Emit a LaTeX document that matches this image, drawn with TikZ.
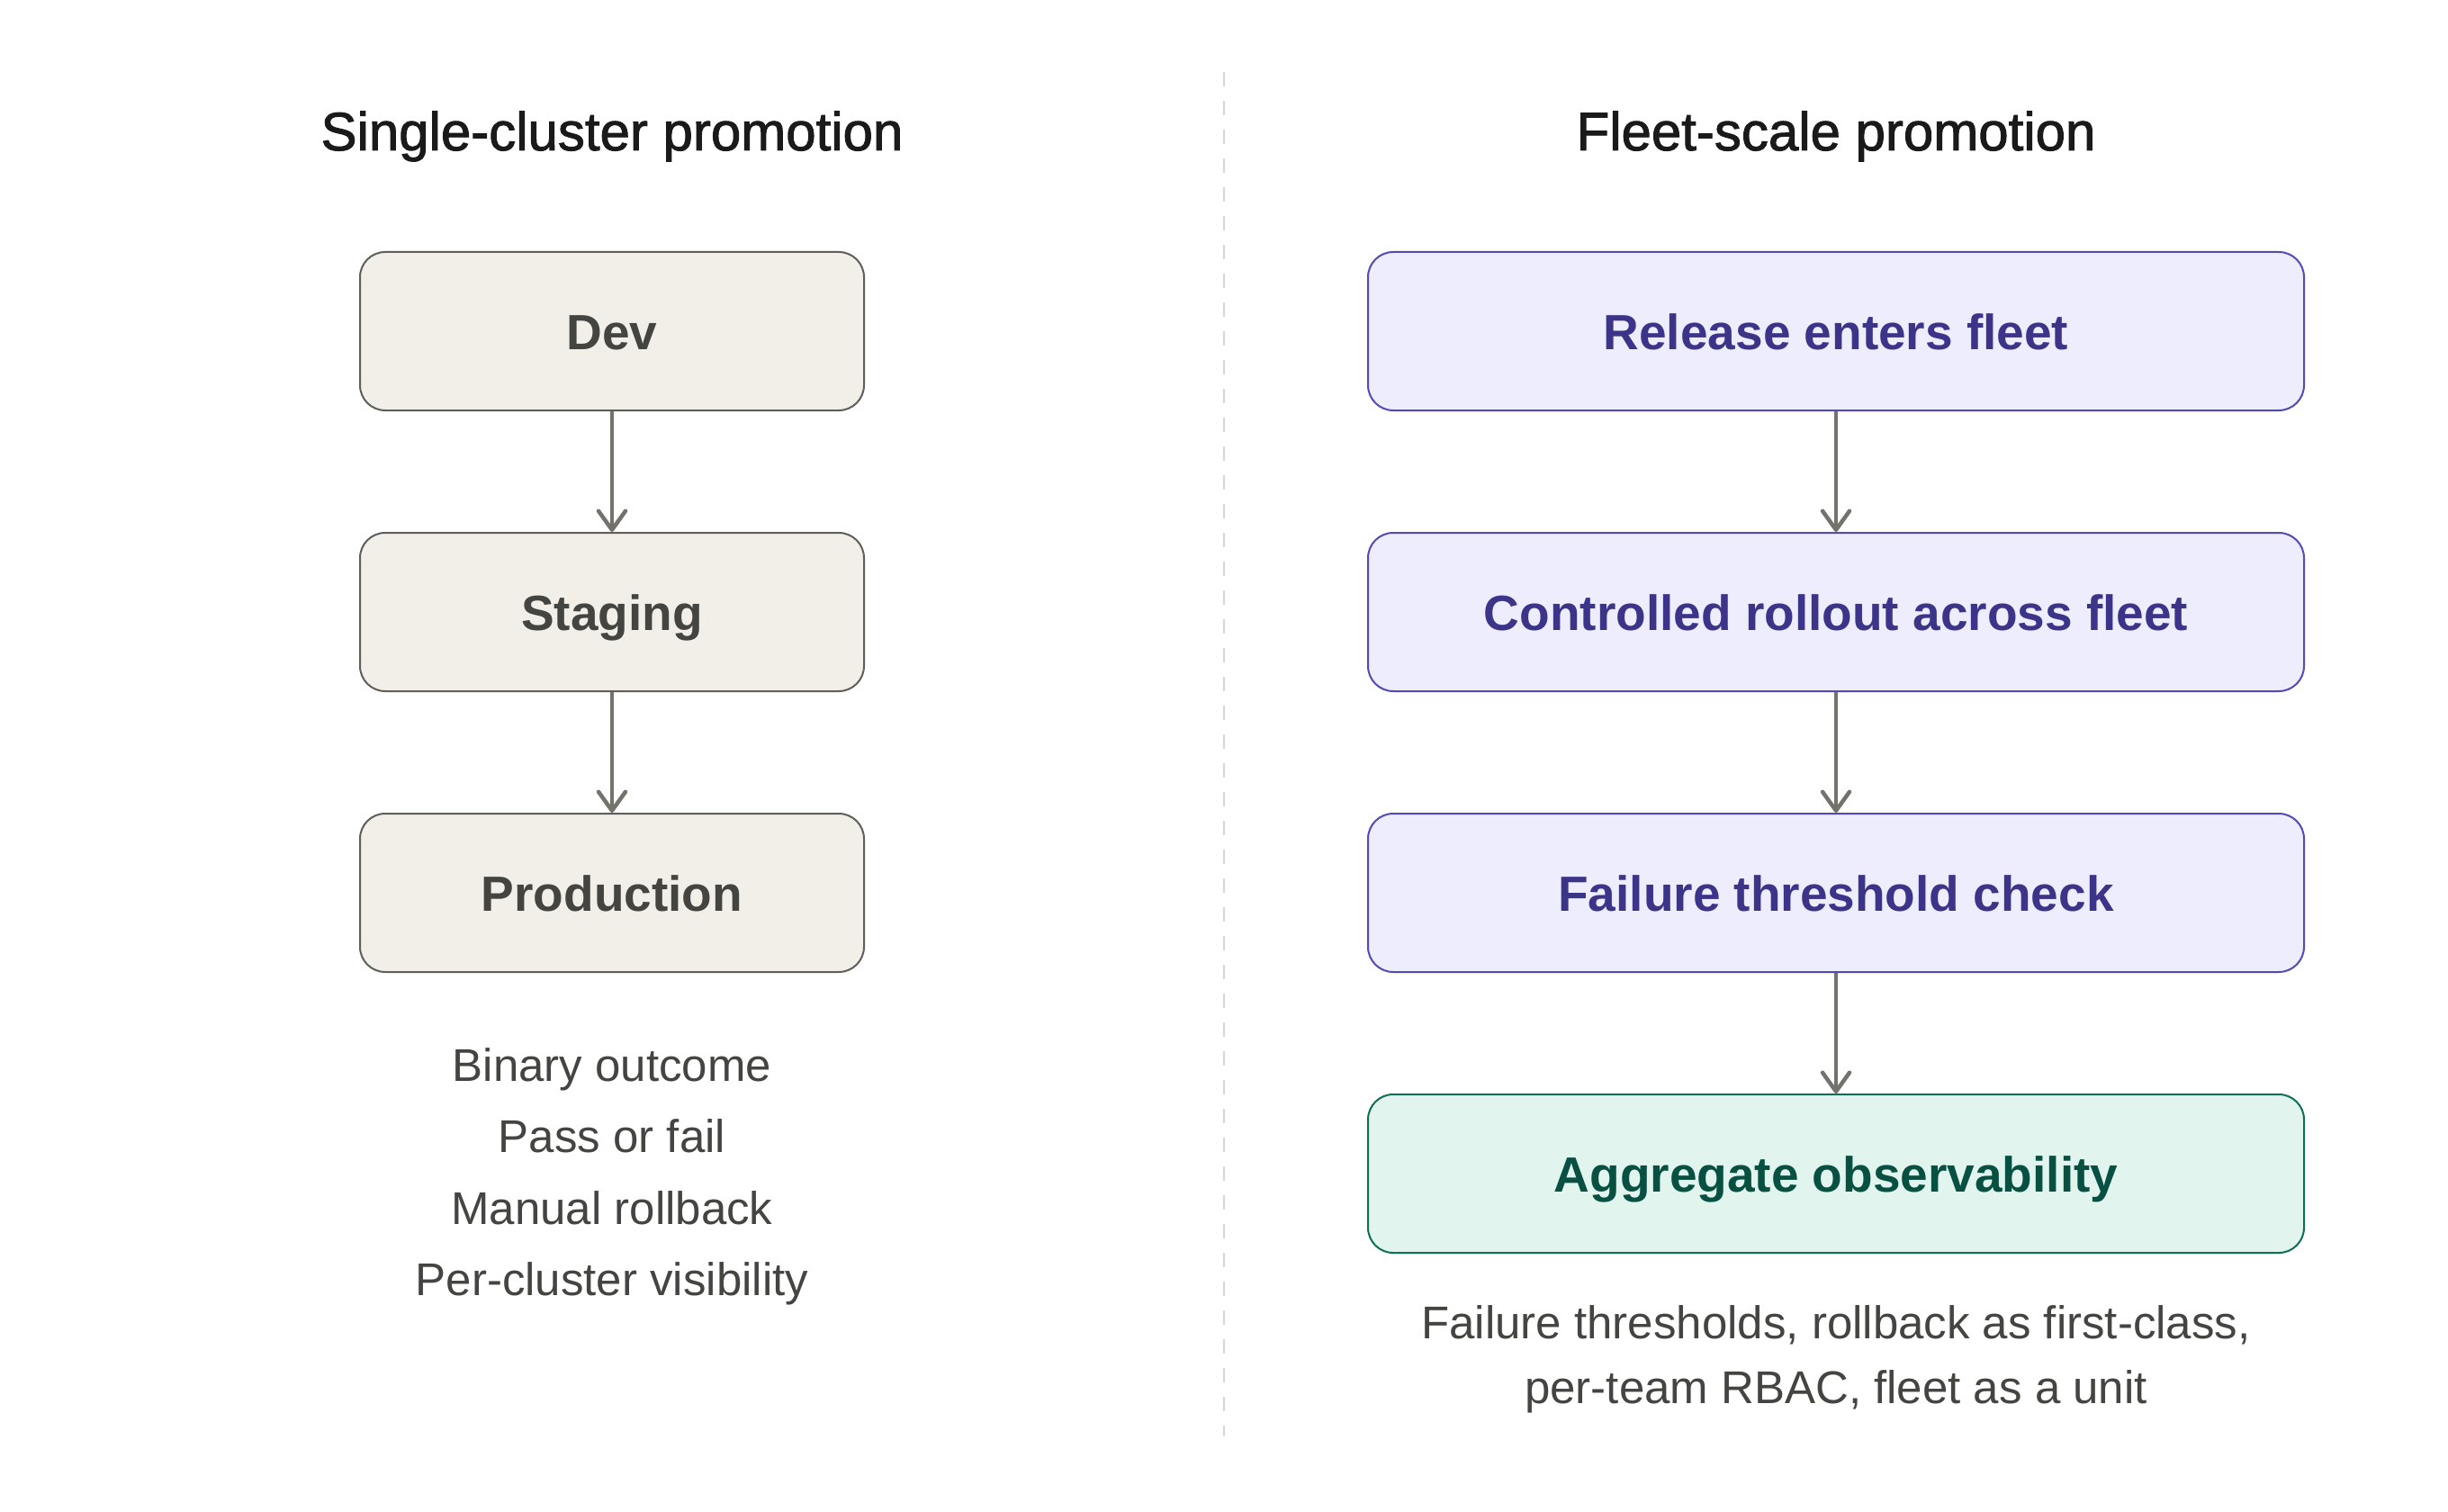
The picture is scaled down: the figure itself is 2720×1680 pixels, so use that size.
\documentclass[tikz,border=0pt]{standalone}
\usepackage{fontspec}
\setmainfont{Liberation Sans}
\newfontfamily\titlefont{Liberation Sans}[FakeBold=1.6]
\usetikzlibrary{arrows.meta}
\definecolor{beigefill}{HTML}{F1EFE8}
\definecolor{beigeline}{HTML}{5F5E5A}
\definecolor{beigetext}{HTML}{444441}
\definecolor{lavfill}{HTML}{EEEDFE}
\definecolor{lavline}{HTML}{534AB7}
\definecolor{lavtext}{HTML}{3C3489}
\definecolor{grnfill}{HTML}{E1F5EE}
\definecolor{grnline}{HTML}{0F6E56}
\definecolor{grntext}{HTML}{085041}
\definecolor{arrowgray}{HTML}{73726C}
\definecolor{divgray}{HTML}{D8D6CE}
\definecolor{notetext}{HTML}{444441}
\definecolor{titletext}{HTML}{1A1A1A}
\begin{document}
\begin{tikzpicture}[x=1pt,y=-1pt,
  stagebox/.style={rectangle, rounded corners=28pt, line width=2pt,
    minimum height=176pt, inner sep=0pt, text height=40pt, text depth=0pt,
    font=\fontsize{55}{66}\selectfont\bfseries},
  leftbox/.style={stagebox, minimum width=560pt, fill=beigefill, draw=beigeline, text=beigetext},
  rightbox/.style={stagebox, minimum width=1040pt, fill=lavfill, draw=lavline, text=lavtext},
  greenbox/.style={stagebox, minimum width=1040pt, fill=grnfill, draw=grnline, text=grntext},
  flow/.style={draw=arrowgray, line width=4.5pt,
    -{Straight Barb[length=21pt, width=30pt, line cap=round, line join=round]}},
  coltitle/.style={anchor=base, inner sep=0pt, text=titletext, font=\titlefont\fontsize{60}{72}\selectfont},
  note/.style={anchor=base, inner sep=0pt, text=notetext, font=\fontsize{51}{62}\selectfont},
  divider/.style={draw=divgray, line width=2.5pt, dash pattern=on 16pt off 16pt}
]
\useasboundingbox[fill=white] (0,0) rectangle (2720,1680);

% divider
\coordinate (divtop) at (1360,80);
\coordinate (divbot) at (1360,1596);
\draw[divider] (divtop) -- (divbot);

% titles
\node[coltitle] (tleft) at (680,167) {Single-cluster promotion};
\node[coltitle] (tright) at (2040,167) {Fleet-scale promotion};

% left column
\node[leftbox] (dev) at (680,368) {Dev};
\node[leftbox] (stg) at (680,680) {Staging};
\node[leftbox] (prod) at (680,992) {Production};
\draw[flow] (dev.south) -- (stg.north);
\draw[flow] (stg.south) -- (prod.north);

\node[note] (n1) at (680,1201) {Binary outcome};
\node[note] (n2) at (680,1280) {Pass or fail};
\node[note] (n3) at (680,1360) {Manual rollback};
\node[note] (n4) at (680,1439) {Per-cluster visibility};

% right column
\node[rightbox] (rel) at (2040,368) {Release enters fleet};
\node[rightbox] (roll) at (2040,680) {Controlled rollout across fleet};
\node[rightbox] (fail) at (2040,992) {Failure threshold check};
\node[greenbox] (obs) at (2040,1304) {Aggregate observability};
\draw[flow] (rel.south) -- (roll.north);
\draw[flow] (roll.south) -- (fail.north);
\draw[flow] (fail.south) -- (obs.north);

\node[note] (r1) at (2040,1487) {Failure thresholds, rollback as first-class,};
\node[note] (r2) at (2040,1559) {per-team RBAC, fleet as a unit};
\end{tikzpicture}
\end{document}
